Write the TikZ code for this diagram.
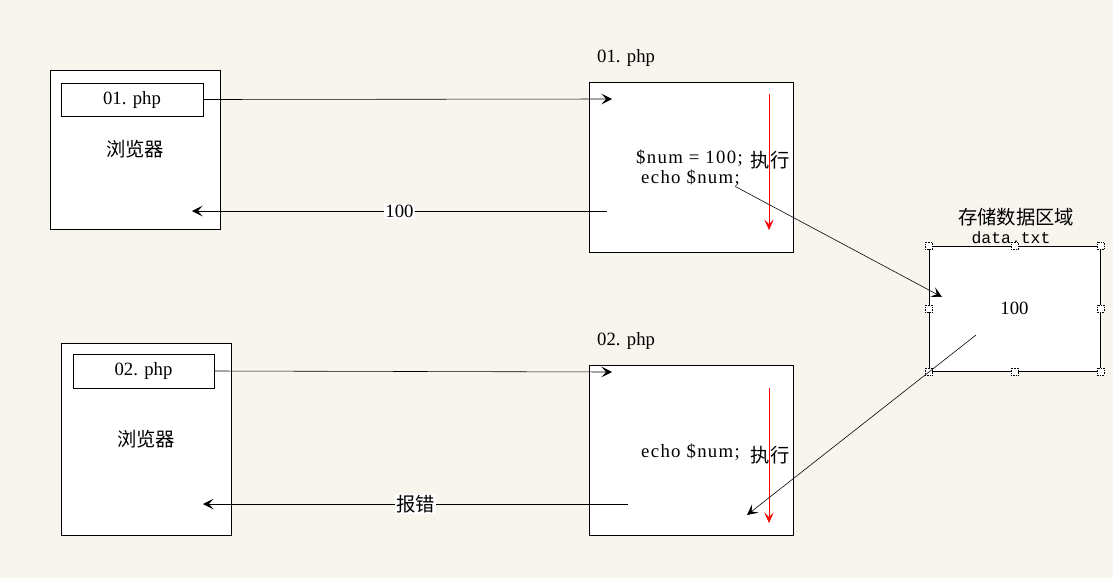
\documentclass[tikz,border=0pt]{standalone}
\usepackage{fontspec}
\setmainfont{Liberation Serif}
\setmonofont{Liberation Mono}
\newfontfamily\cjk{Noto Sans CJK SC}
\usetikzlibrary{positioning, arrows.meta}

\definecolor{paper}{HTML}{F8F5EE}

\tikzset{
  box/.style = {draw, fill = white, line width = 0.6pt},
  link/.style = {-{Stealth[length = 9pt, width = 9pt, inset = 4pt]}, line width = 0.5pt},
  run/.style = {-{Stealth[length = 9pt, width = 8pt, inset = 4pt]}, red, line width = 0.6pt},
  handle/.style = {draw, densely dotted, fill = white, rectangle, minimum size = 6pt, inner sep = 0pt},
  lbl/.style = {font = \fontsize{16pt}{18pt}\selectfont},
  code/.style = {font = \fontsize{16pt}{18pt}\selectfont\addfontfeature{LetterSpace = 7}, anchor = west, inner sep = 0pt},
  zh/.style = {font = \cjk\fontsize{16.5pt}{19pt}\selectfont}
}

\begin{document}
\begin{tikzpicture}[x = 0.03cm, y = -0.03cm]

\fill[paper] (0, 0) rectangle (1113, 578);
\useasboundingbox (0, 0) rectangle (1113, 578);

% Browser 1
\node[box, minimum width = 5.1cm, minimum height = 4.77cm] (b1) at (135, 149.5) {};
\node[box, minimum width = 4.26cm, minimum height = 0.99cm, lbl] (r1) at (132, 99.5) {01. php};
\node[zh] (w1) at (135, 149) {浏览器};
\coordinate (back1) at (192, 211);

% 01.php
\node[box, minimum width = 6.12cm, minimum height = 5.1cm] (p1) at (691, 167) {};
\node[lbl, anchor = west, inner sep = 0pt] (t1) at (597, 58) {01. php};
\coordinate (in1) at (612, 99);
\coordinate (out1) at (607, 211);
\node[code] (c1) at (636, 158) {\$num = 100;};
\node[code] (c2) at (641, 178) {echo \$num;};
\node[zh] (x1) at (770, 160) {执行};
\draw[run] (769, 94) -- (769, 230);

\draw[link] (r1.east) -- (in1);
\draw[link] (out1) -- node[fill = white, inner sep = 1pt, lbl] (v1) {100} (back1);

% storage
\node[box, minimum width = 5.13cm, minimum height = 3.75cm, lbl] (d) at (1014.5, 308.5) {100};
\node[zh] (s) at (1016, 217) {存储数据区域};
\node[font = \ttfamily\fontsize{14pt}{16pt}\selectfont, inner sep = 0pt] (f) at (1011, 238) {data.txt};
\foreach \a in {north west, north, north east, west, east, south west, south, south east}
  \node[handle] at (d.\a) {};
\coordinate (put) at (942, 297);
\coordinate (get) at (976, 335);

\draw[link] ([xshift = -4pt]c2.south east) -- (put);

% Browser 2
\node[box, minimum width = 5.1cm, minimum height = 5.76cm] (b2) at (146, 439) {};
\node[box, minimum width = 4.23cm, minimum height = 1.02cm, lbl] (r2) at (143.5, 371) {02. php};
\node[zh] (w2) at (146, 439) {浏览器};
\coordinate (back2) at (203, 504);

% 02.php
\node[box, minimum width = 6.12cm, minimum height = 5.1cm] (p2) at (691, 450) {};
\node[lbl, anchor = west, inner sep = 0pt] (t2) at (597, 341) {02. php};
\coordinate (in2) at (612, 372);
\coordinate (out2) at (628, 504);
\coordinate (miss) at (747, 515);
\node[code] (c3) at (641, 452) {echo \$num;};
\node[zh] (x2) at (770, 455) {执行};
\draw[run] (769, 388) -- (769, 523);

\draw[link] (r2.east) -- (in2);
\draw[link] (out2) -- node[fill = white, inner sep = 1pt, zh] (v2) {报错} (back2);
\draw[link] (get) -- (miss);

\end{tikzpicture}
\end{document}
